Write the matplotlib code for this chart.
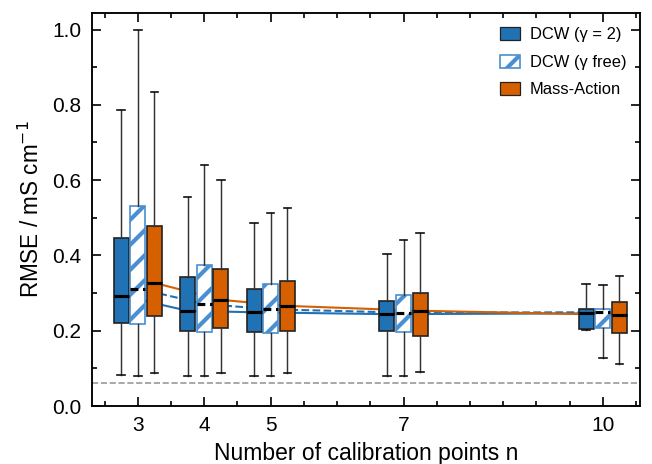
import matplotlib
matplotlib.use('Agg')
import matplotlib.pyplot as plt
from matplotlib.patches import Patch
from matplotlib.ticker import MultipleLocator, FixedLocator

import numpy as np

plt.rcParams['font.family'] = ['Liberation Sans', 'DejaVu Sans']
plt.rcParams['hatch.linewidth'] = 2.0

n_points = [3, 4, 5, 7, 10]

# five-number summaries: low whisker, q1, median, q3, high whisker
dcw_fixed = {
    'low': [0.082, 0.080, 0.079, 0.081, 0.203],
    'q1': [0.220, 0.199, 0.196, 0.198, 0.204],
    'med': [0.293, 0.253, 0.249, 0.244, 0.246],
    'q3': [0.447, 0.342, 0.311, 0.280, 0.258],
    'high': [0.787, 0.556, 0.485, 0.403, 0.324],
}
dcw_free = {
    'low': [0.081, 0.081, 0.081, 0.081, 0.128],
    'q1': [0.218, 0.197, 0.194, 0.196, 0.206],
    'med': [0.312, 0.271, 0.257, 0.248, 0.249],
    'q3': [0.532, 0.374, 0.323, 0.296, 0.258],
    'high': [0.999, 0.641, 0.513, 0.440, 0.321],
}
mass_action = {
    'low': [0.088, 0.087, 0.087, 0.089, 0.112],
    'q1': [0.238, 0.206, 0.198, 0.186, 0.195],
    'med': [0.327, 0.282, 0.266, 0.253, 0.242],
    'q3': [0.479, 0.364, 0.333, 0.301, 0.277],
    'high': [0.833, 0.600, 0.527, 0.460, 0.346],
}
noise_level = 0.060

BLUE = '#2171b5'
LIGHT_BLUE = '#4a8fd0'
ORANGE = '#d65f00'
EDGE = '#222222'

DPI = 150
fig = plt.figure(figsize=(652 / DPI, 464 / DPI), dpi=DPI)
ax = fig.add_axes([92 / 652, 1 - 406 / 464, 548 / 652, 393 / 464])

offset = 0.25
width = 0.225


def to_stats(d):
    out = []
    for i in range(len(n_points)):
        out.append({'whislo': d['low'][i], 'q1': d['q1'][i], 'med': d['med'][i],
                    'q3': d['q3'][i], 'whishi': d['high'][i], 'fliers': []})
    return out


def draw_group(d, pos, face, edge, hatch, med_style, line_style, line_color):
    # median trend line behind the boxes
    ax.plot(pos, d['med'], color=line_color, lw=1.0, ls=line_style, zorder=1)
    ax.bxp(to_stats(d), positions=pos, widths=width, patch_artist=True,
           showfliers=False, manage_ticks=False,
           boxprops=dict(facecolor=face, edgecolor=edge, linewidth=0.8, hatch=hatch),
           whiskerprops=dict(color='#333333', linewidth=0.7),
           capprops=dict(color='#111111', linewidth=0.8),
           capwidths=width * 0.5,
           medianprops=dict(color='black', linewidth=1.5, linestyle=med_style),
           zorder=3)


pos = np.array(n_points, dtype=float)
draw_group(dcw_fixed, pos - offset, BLUE, EDGE, None, '-', '-', BLUE)
plt.rcParams['hatch.color'] = BLUE
draw_group(dcw_free, pos, 'white', LIGHT_BLUE, '//', (0, (2.5, 1.5)), '--', BLUE)
draw_group(mass_action, pos + offset, ORANGE, EDGE, None, '-', '-', ORANGE)

ax.axhline(noise_level, color='#999999', lw=0.8, ls='--', zorder=0)

ax.set_xlim(2.31, 10.56)
ax.set_ylim(0.0, 1.044)
ax.xaxis.set_major_locator(FixedLocator(n_points))
ax.xaxis.set_minor_locator(MultipleLocator(0.5))
ax.yaxis.set_major_locator(MultipleLocator(0.2))
ax.yaxis.set_minor_locator(MultipleLocator(0.1))
ax.set_xticklabels([str(n) for n in n_points])
ax.tick_params(which='both', direction='in', top=True, right=True, labelsize=10, width=0.8)
ax.tick_params(which='major', length=4.5, pad=5)
ax.tick_params(which='minor', length=2.2)
for s in ax.spines.values():
    s.set_linewidth(0.9)

ax.set_xlabel('Number of calibration points n', fontsize=11, labelpad=3)
ax.set_ylabel('RMSE / mS cm$^{-1}$', fontsize=10.8, labelpad=4)

handles = [
    Patch(facecolor=BLUE, edgecolor=EDGE, linewidth=0.6, label='DCW (\u03b3 = 2)'),
    Patch(facecolor='white', edgecolor=LIGHT_BLUE, hatch='//', linewidth=0.8, label='DCW (\u03b3 free)'),
    Patch(facecolor=ORANGE, edgecolor=EDGE, linewidth=0.6, label='Mass-Action'),
]
ax.legend(handles=handles, loc='upper right', frameon=False, fontsize=7.9,
          handlelength=1.25, handleheight=0.85, labelspacing=0.75, handletextpad=0.55,
          borderaxespad=0.45)

plt.savefig('out.png', dpi=DPI)
plt.close('all')
